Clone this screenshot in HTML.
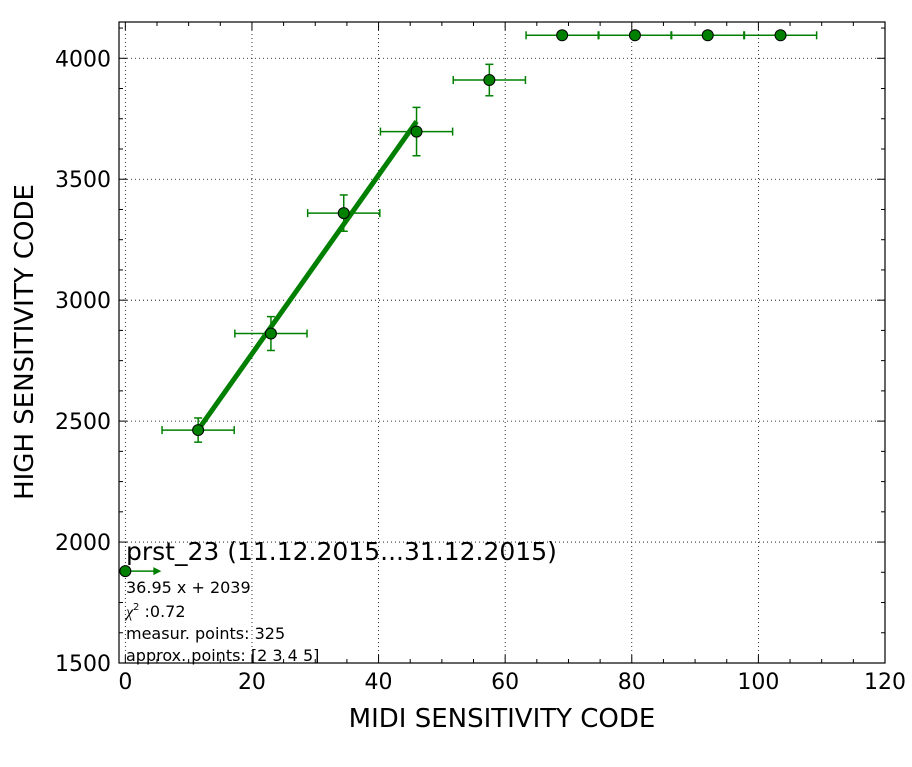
<!DOCTYPE html>
<html><head><meta charset="utf-8"><style>
body{margin:0;background:#fff;}
svg text{font-family:"DejaVu Sans","Liberation Sans",sans-serif;}
</style></head><body>
<svg id="chart" width="912" height="762" xmlns="http://www.w3.org/2000/svg"></svg>
<script>
const xVals=[0,11.5,23,34.5,46,57.5,69,80.5,92,103.5];
const yVals=[1880,2463,2862,3360,3697,3910,4095,4095,4095,4095];
const xErr=[0,5.7,5.7,5.7,5.7,5.7,5.7,5.7,5.7,5.7];
const yErr=[0,50,70,75,100,65,0,0,0,0];
const xTicks=[0,20,40,60,80,100,120];
const yTicks=[1500,2000,2500,3000,3500,4000];
const fitSlope=36.95, fitIntercept=2039, fitRange=[11.5,46];
const L=119,R=885,T=22,B=663;
const xMin=-1,xMax=120,yMin=1500,yMax=4150;
const sx=v=>L+(v-xMin)/(xMax-xMin)*(R-L);
const sy=v=>B-(v-yMin)/(yMax-yMin)*(B-T);
const svg=document.getElementById('chart');
const NS='http://www.w3.org/2000/svg';
function mk(tag,attrs,parent){const e=document.createElementNS(NS,tag);for(const k in attrs)e.setAttribute(k,attrs[k]);(parent||svg).appendChild(e);return e;}
const g=mk('g',{});


xTicks.forEach(t=>{if(t>xMin&&t<xMax){mk('line',{x1:sx(t),x2:sx(t),y1:T,y2:B,stroke:'#000','stroke-width':0.8,'stroke-dasharray':'1,3'},g);}});
yTicks.forEach(t=>{if(t>yMin){mk('line',{x1:L,x2:R,y1:sy(t),y2:sy(t),stroke:'#000','stroke-width':0.8,'stroke-dasharray':'1,3'},g);}});
// minor & major ticks
for(let v=0;v<=xMax;v+=5){const x=sx(v);const len=(v%20===0)?8:4;
mk('line',{x1:x,x2:x,y1:B,y2:B-len,stroke:'#000'});mk('line',{x1:x,x2:x,y1:T,y2:T+len,stroke:'#000'});}
for(let v=yMin;v<=yMax;v+=125){const y=sy(v);const len=(v%500===0)?8:4;
mk('line',{x1:L,x2:L+len,y1:y,y2:y,stroke:'#000'});mk('line',{x1:R,x2:R-len,y1:y,y2:y,stroke:'#000'});}
xTicks.forEach(t=>{const e=mk('text',{x:sx(t),y:B+26,'font-size':22,'text-anchor':'middle'});e.textContent=t;

});
yTicks.forEach(t=>{const e=mk('text',{x:L-8,y:sy(t)+8,'font-size':22,'text-anchor':'end'});e.textContent=t;

});
// fit line
const fl=mk('line',{x1:sx(fitRange[0]),y1:sy(fitSlope*fitRange[0]+fitIntercept),x2:sx(fitRange[1]),y2:sy(fitSlope*fitRange[1]+fitIntercept),stroke:'#007f00','stroke-width':5});


// points
xVals.forEach((xv,i)=>{const x=sx(xv),y=sy(yVals[i]);const c='#008000';
const pg=mk('g',{});


if(i===0){mk('line',{x1:x,x2:x+30,y1:y,y2:y,stroke:c,'stroke-width':1.5},pg);mk('polygon',{points:`${x+36},${y} ${x+28},${y-4} ${x+28},${y+4}`,fill:c},pg);}
if(xErr[i]>0){const a=sx(xv-xErr[i]),b=sx(xv+xErr[i]);mk('line',{x1:a,x2:b,y1:y,y2:y,stroke:c,'stroke-width':1.5},pg);
mk('line',{x1:a,x2:a,y1:y-4,y2:y+4,stroke:c,'stroke-width':1.5},pg);mk('line',{x1:b,x2:b,y1:y-4,y2:y+4,stroke:c,'stroke-width':1.5},pg);}
if(yErr[i]>0){const a=sy(yVals[i]-yErr[i]),b=sy(yVals[i]+yErr[i]);mk('line',{x1:x,x2:x,y1:a,y2:b,stroke:c,'stroke-width':1.5},pg);
mk('line',{x1:x-4,x2:x+4,y1:a,y2:a,stroke:c,'stroke-width':1.5},pg);mk('line',{x1:x-4,x2:x+4,y1:b,y2:b,stroke:c,'stroke-width':1.5},pg);}
mk('circle',{cx:x,cy:y,r:5.5,fill:c,stroke:'#000','stroke-width':1},pg);});
</script>
<svg style="position:absolute;left:0;top:0" width="912" height="762" xmlns="http://www.w3.org/2000/svg">
<rect x="119" y="22" width="766" height="641" fill="none" stroke="#000" stroke-width="1.2"/>
<text x="502" y="727" font-size="26" text-anchor="middle">MIDI SENSITIVITY CODE</text>
<text transform="translate(33,342) rotate(-90)" font-size="26" text-anchor="middle">HIGH SENSITIVITY CODE</text>
<text x="126" y="560" font-size="25">prst_23 (11.12.2015...31.12.2015)</text>
<text x="126" y="593" font-size="16">36.95 x + 2039</text>
<text x="126" y="617" font-size="16"><tspan font-style="italic" font-family="Liberation Serif,serif">χ</tspan><tspan font-size="10" dy="-7">2</tspan><tspan dy="7"> :0.72</tspan></text>
<text x="126" y="639" font-size="16">measur. points: 325</text>
<text x="126" y="661" font-size="16">approx. points: [2 3 4 5]</text>
</svg>
</body></html>
